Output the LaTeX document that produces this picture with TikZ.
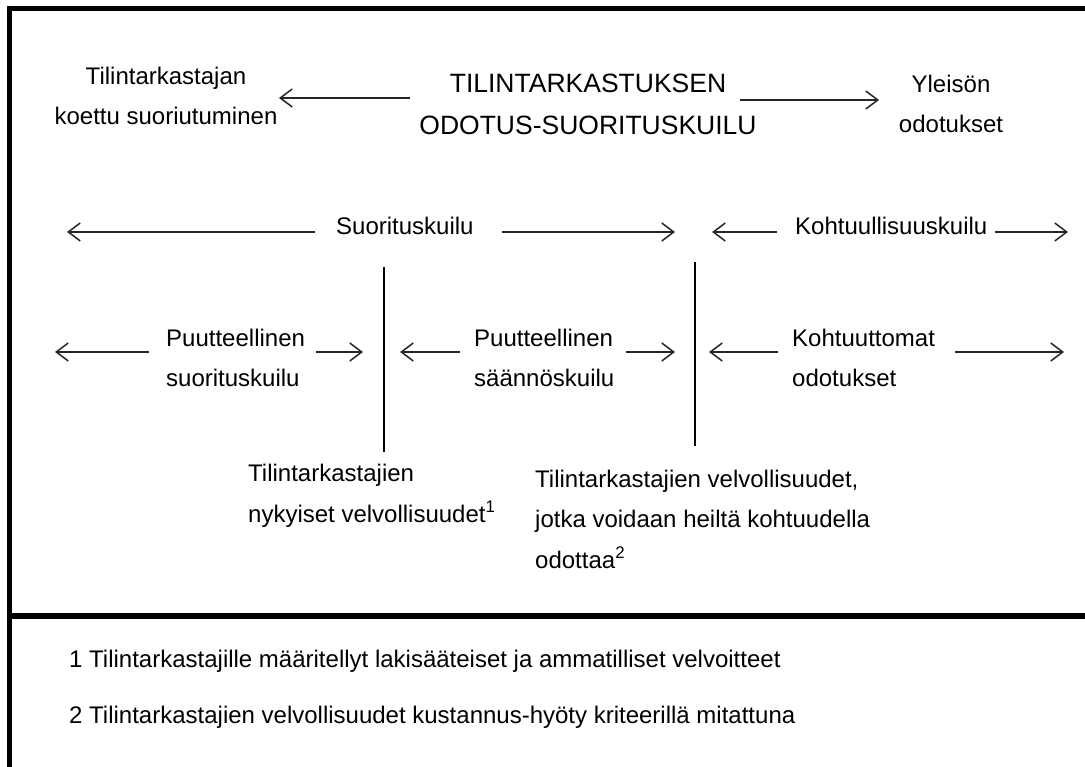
\documentclass[tikz,border=0pt]{standalone}
\usepackage{fontspec}
\setmainfont{Liberation Sans}
\usetikzlibrary{arrows.meta,positioning}

\begin{document}
\begin{tikzpicture}[x=1pt,y=-1pt,>={Straight Barb[length=12pt,width=18pt]}]
        \tikzstyle{lbl} = [inner sep=0pt, font=\fontsize{24}{40.5}\selectfont]
        \tikzstyle{head} = [inner sep=0pt, font=\fontsize{26.5}{42}\selectfont]
        \tikzstyle{arr} = [->, line width=1.5pt, black!85]
        \tikzstyle{frame} = [line width=5.5pt]
        \tikzstyle{split} = [line width=1.3pt]

        \useasboundingbox (0,0) rectangle (1085,767);

        % Frame
        \draw[frame] (1085,8.5) -- (9.5,8.5) -- (9.5,767);
        \draw[frame] (9.5,616) -- (1085,616);

        % Nodes (base = baseline of the last line)
        \node[lbl, align=center, anchor=base] (perf) at (166,125) {Tilintarkastajan\\koettu suoriutuminen};
        \node[head, align=center, anchor=base] (gap) at (588,135) {TILINTARKASTUKSEN\\ODOTUS-SUORITUSKUILU};
        \node[lbl, align=center, anchor=base] (expect) at (951,133) {Yleisön\\odotukset};

        \node[lbl, anchor=base west] (perfgap) at (336,235) {Suorituskuilu};
        \node[lbl, anchor=base west] (reasgap) at (795,235) {Kohtuullisuuskuilu};

        \node[lbl, align=left, anchor=base west] (defperf) at (166,387) {Puutteellinen\\suorituskuilu};
        \node[lbl, align=left, anchor=base west] (defstd) at (474,387) {Puutteellinen\\säännöskuilu};
        \node[lbl, align=left, anchor=base west] (unreas) at (792,387) {Kohtuuttomat\\odotukset};

        \node[lbl, align=left, anchor=base west] (duties) at (248,522) {Tilintarkastajien\\nykyiset velvollisuudet\textsuperscript{1}};
        \node[lbl, align=left, anchor=base west] (reasduties) at (535,568) {Tilintarkastajien velvollisuudet,\\jotka voidaan heiltä kohtuudella\\odottaa\textsuperscript{2}};

        \node[lbl, anchor=base west] (note1) at (69,667) {1 Tilintarkastajille määritellyt lakisääteiset ja ammatilliset velvoitteet};
        \node[lbl, anchor=base west] (note2) at (69,723) {2 Tilintarkastajien velvollisuudet kustannus-hyöty kriteerillä mitattuna};

        % Arrow tips
        \coordinate (t1) at (279,98);
        \coordinate (t2) at (879,100);
        \coordinate (t3) at (67,232);
        \coordinate (t4) at (675,232);
        \coordinate (t5) at (712,232);
        \coordinate (t6) at (1068,232);
        \coordinate (t7) at (55,352);
        \coordinate (t8) at (363,352);
        \coordinate (t9) at (400,352);
        \coordinate (t10) at (675,352);
        \coordinate (t11) at (709,352);
        \coordinate (t12) at (1064,352);

        % Edges
        \draw[arr, shorten <=9pt] (gap.west |- t1) -- (t1);
        \draw[arr, shorten <=-17pt] (gap.east |- t2) -- (t2);
        \draw[arr, shorten <=21pt] (perfgap.west |- t3) -- (t3);
        \draw[arr, shorten <=28pt] (perfgap.east |- t4) -- (t4);
        \draw[arr, shorten <=18pt] (reasgap.west |- t5) -- (t5);
        \draw[arr, shorten <=7pt] (reasgap.east |- t6) -- (t6);
        \draw[arr, shorten <=17pt] (defperf.west |- t7) -- (t7);
        \draw[arr, shorten <=11pt] (defperf.east |- t8) -- (t8);
        \draw[arr, shorten <=14pt] (defstd.west |- t9) -- (t9);
        \draw[arr, shorten <=11pt] (defstd.east |- t10) -- (t10);
        \draw[arr, shorten <=14pt] (unreas.west |- t11) -- (t11);
        \draw[arr, shorten <=20pt] (unreas.east |- t12) -- (t12);

        % Dividers
        \draw[split] (384,267) -- (384,452);
        \draw[split] (695,262) -- (695,446);
\end{tikzpicture}
\end{document}
